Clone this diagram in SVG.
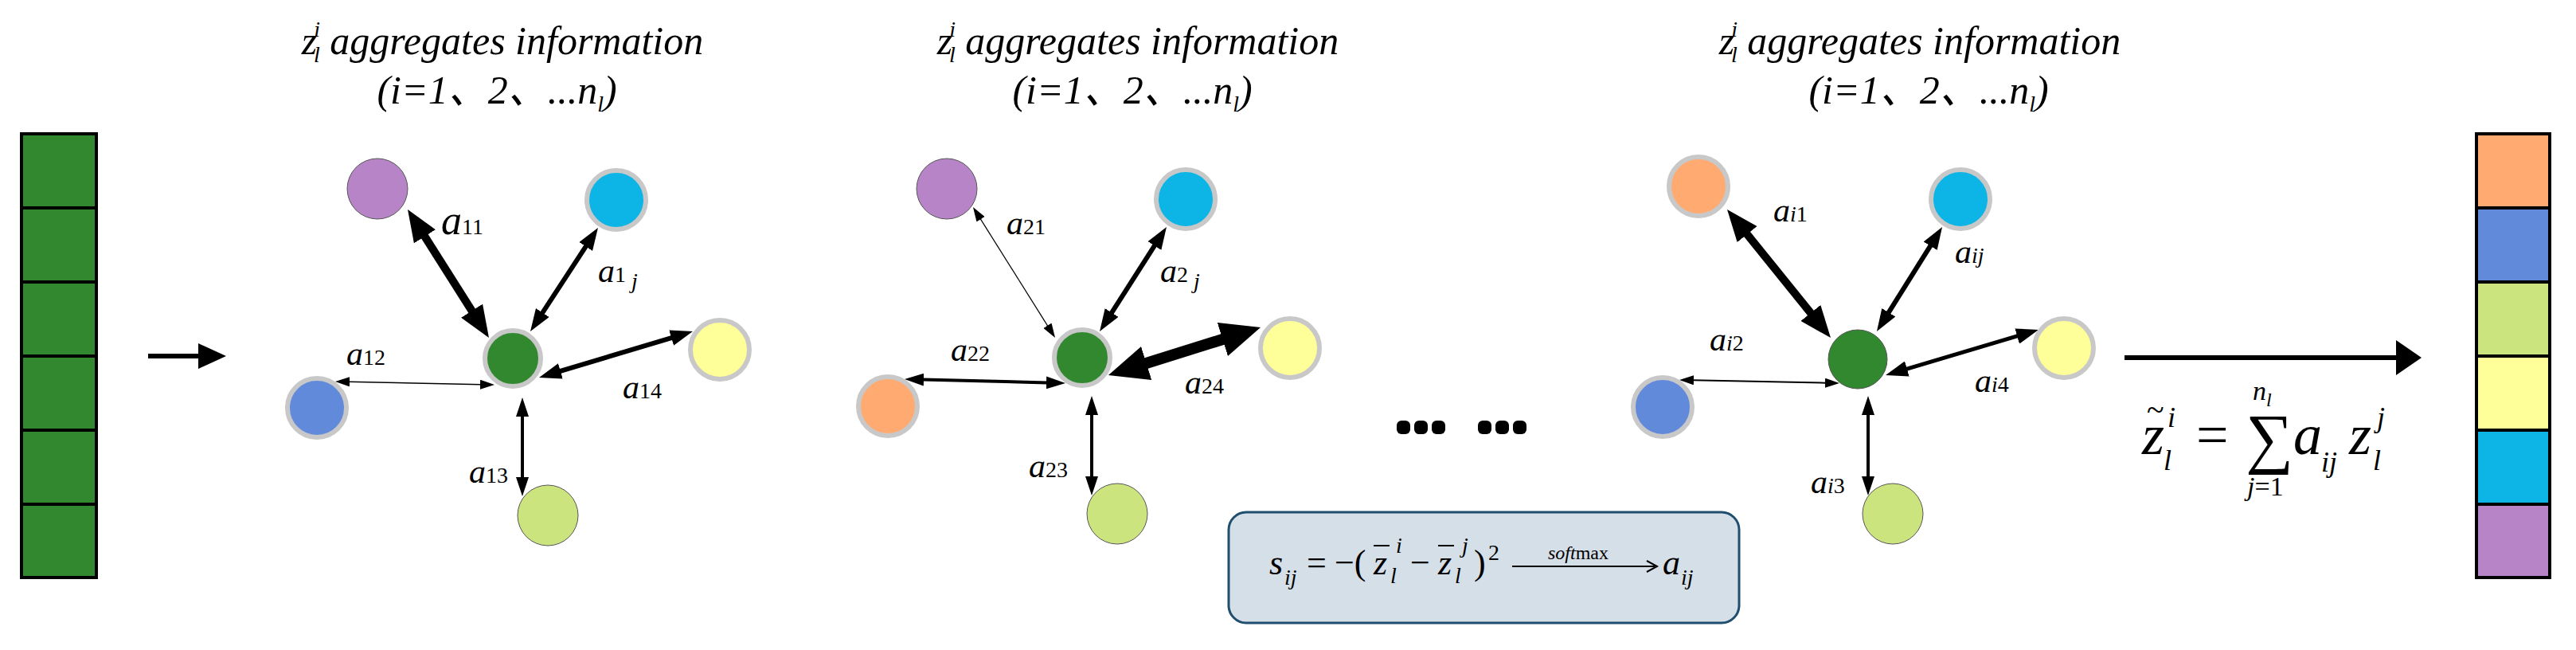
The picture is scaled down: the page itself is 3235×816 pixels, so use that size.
<svg xmlns="http://www.w3.org/2000/svg" width="3235" height="816" viewBox="0 0 3235 816">
<style>
.t{font-family:"Liberation Serif","DejaVu Serif","Noto Sans CJK SC",serif;font-style:italic;fill:#000}
.r{font-family:"Liberation Serif","DejaVu Serif",serif;font-style:normal;fill:#000}
.ttl{font-size:50px}
.lb{font-size:42px}
.sb{font-size:28px}
.e{stroke:#000;fill:none}
.gs{stroke:#c8c8c8;stroke-width:6}
.ns{stroke:#555;stroke-width:1}
.cell{stroke:#000;stroke-width:4}
</style>
<defs>
<marker id="mS" markerUnits="userSpaceOnUse" markerWidth="18" markerHeight="12" refX="1" refY="6" orient="auto-start-reverse"><path d="M0,0L18,6L0,12z"/></marker>
<marker id="m4" markerUnits="userSpaceOnUse" markerWidth="24" markerHeight="16" refX="1" refY="8" orient="auto-start-reverse"><path d="M0,0L24,8L0,16z"/></marker>
<marker id="mM" markerUnits="userSpaceOnUse" markerWidth="28" markerHeight="20" refX="1" refY="10" orient="auto-start-reverse"><path d="M0,0L28,10L0,20z"/></marker>
<marker id="mL" markerUnits="userSpaceOnUse" markerWidth="40" markerHeight="32" refX="1" refY="16" orient="auto-start-reverse"><path d="M0,0L40,16L0,32z"/></marker>
<marker id="mXL" markerUnits="userSpaceOnUse" markerWidth="50" markerHeight="44" refX="1" refY="22" orient="auto-start-reverse"><path d="M0,0L50,22L0,44z"/></marker>
<marker id="mA" markerUnits="userSpaceOnUse" markerWidth="35" markerHeight="32" refX="1" refY="16" orient="auto"><path d="M0,0L35,16L0,32z"/></marker>
<marker id="mB" markerUnits="userSpaceOnUse" markerWidth="32" markerHeight="44" refX="1" refY="22" orient="auto"><path d="M0,0L32,22L0,44z"/></marker>
</defs>
<rect width="3235" height="816" fill="#fff"/>

<g id="input-bar">
<rect class="cell" x="27" y="168" width="94" height="93" fill="#31882e"/>
<rect class="cell" x="27" y="261" width="94" height="93" fill="#31882e"/>
<rect class="cell" x="27" y="354" width="94" height="93" fill="#31882e"/>
<rect class="cell" x="27" y="447" width="94" height="93" fill="#31882e"/>
<rect class="cell" x="27" y="540" width="94" height="93" fill="#31882e"/>
<rect class="cell" x="27" y="633" width="94" height="92" fill="#31882e"/>
</g>
<g id="output-bar">
<rect class="cell" x="3110" y="168" width="92" height="93" fill="#ffaa70"/>
<rect class="cell" x="3110" y="261" width="92" height="93" fill="#628ada"/>
<rect class="cell" x="3110" y="354" width="92" height="93" fill="#cce47e"/>
<rect class="cell" x="3110" y="447" width="92" height="93" fill="#ffff99"/>
<rect class="cell" x="3110" y="540" width="92" height="93" fill="#0db5e6"/>
<rect class="cell" x="3110" y="633" width="92" height="92" fill="#b784c8"/>
</g>

<g id="titles">
<text class="t ttl" x="631" y="68" text-anchor="middle">z<tspan class="sb" dx="-4" dy="-22">i</tspan><tspan class="sb" dx="-8" dy="32">l</tspan><tspan dy="-10"> aggregates information</tspan></text>
<text class="t ttl" x="624" y="130" text-anchor="middle">(i=1、2、...n<tspan class="sb" dy="10">l</tspan><tspan dy="-10">)</tspan></text>
<text class="t ttl" x="1429" y="68" text-anchor="middle">z<tspan class="sb" dx="-4" dy="-22">i</tspan><tspan class="sb" dx="-8" dy="32">l</tspan><tspan dy="-10"> aggregates information</tspan></text>
<text class="t ttl" x="1422" y="130" text-anchor="middle">(i=1、2、...n<tspan class="sb" dy="10">l</tspan><tspan dy="-10">)</tspan></text>
<text class="t ttl" x="2411" y="68" text-anchor="middle">z<tspan class="sb" dx="-4" dy="-22">i</tspan><tspan class="sb" dx="-8" dy="32">l</tspan><tspan dy="-10"> aggregates information</tspan></text>
<text class="t ttl" x="2422" y="130" text-anchor="middle">(i=1、2、...n<tspan class="sb" dy="10">l</tspan><tspan dy="-10">)</tspan></text>
</g>

<g id="connectors">
<line class="e" x1="186" y1="447" x2="250" y2="447" stroke-width="6" marker-end="url(#mA)"/>
<line class="e" x1="2668" y1="449" x2="3010" y2="449" stroke-width="6" marker-end="url(#mB)"/>
<line class="e" x1="532.9" y1="296" x2="593.1" y2="391" stroke-width="10" marker-start="url(#mL)" marker-end="url(#mL)"/>
<line class="e" x1="736.2" y1="308.6" x2="680.8" y2="393.4" stroke-width="6" marker-start="url(#mM)" marker-end="url(#mM)"/>
<line class="e" x1="844.1" y1="423.8" x2="702.9" y2="466.2" stroke-width="6" marker-start="url(#mM)" marker-end="url(#mM)"/>
<line class="e" x1="438" y1="479.3" x2="604" y2="482.7" stroke-width="1.5" marker-start="url(#mS)" marker-end="url(#mS)"/>
<line class="e" x1="656" y1="522" x2="656" y2="600" stroke-width="4" marker-start="url(#m4)" marker-end="url(#m4)"/>
<line class="e" x1="1231" y1="274.4" x2="1316" y2="409.6" stroke-width="1.2" marker-start="url(#mS)" marker-end="url(#mS)"/>
<line class="e" x1="1450.4" y1="307.7" x2="1395.6" y2="393.3" stroke-width="6" marker-start="url(#mM)" marker-end="url(#mM)"/>
<line class="e" x1="1536.3" y1="425.7" x2="1438.7" y2="456.3" stroke-width="14" marker-start="url(#mXL)" marker-end="url(#mXL)"/>
<line class="e" x1="1159" y1="476.6" x2="1315" y2="480.4" stroke-width="4" marker-start="url(#m4)" marker-end="url(#m4)"/>
<line class="e" x1="1371" y1="520" x2="1371" y2="599" stroke-width="4" marker-start="url(#m4)" marker-end="url(#m4)"/>
<line class="e" x1="2193.5" y1="293.3" x2="2274.5" y2="393.7" stroke-width="10" marker-start="url(#mL)" marker-end="url(#mL)"/>
<line class="e" x1="2424.7" y1="307.9" x2="2371.3" y2="393.1" stroke-width="6" marker-start="url(#mM)" marker-end="url(#mM)"/>
<line class="e" x1="2534.1" y1="421.7" x2="2393.9" y2="463.3" stroke-width="5" marker-start="url(#mM)" marker-end="url(#mM)"/>
<line class="e" x1="2126" y1="477.3" x2="2293" y2="480.7" stroke-width="2" marker-start="url(#mS)" marker-end="url(#mS)"/>
<line class="e" x1="2346" y1="520" x2="2346" y2="599" stroke-width="4" marker-start="url(#m4)" marker-end="url(#m4)"/>
</g>

<g id="panel1">
<circle id="p1-center" cx="644" cy="450" r="35" fill="#31882e" class="gs"/>
<circle id="p1-purple" cx="474" cy="237" r="38" fill="#b784c8" class="ns"/>
<circle id="p1-cyan" cx="774" cy="251" r="37" fill="#0db5e6" class="gs"/>
<circle id="p1-yellow" cx="904" cy="439" r="37" fill="#ffff99" class="gs"/>
<circle id="p1-blue" cx="398" cy="512" r="37" fill="#628ada" class="gs"/>
<circle id="p1-lgreen" cx="688" cy="647" r="38" fill="#cce47e" class="ns"/>
<text class="t" font-size="52" x="554" y="294">a<tspan class="r sb" font-size="32">11</tspan></text>
<text class="t lb" x="751" y="354">a<tspan class="r sb">1</tspan><tspan class="sb" dy="8"> j</tspan></text>
<text class="t lb" x="435" y="458">a<tspan class="r sb">12</tspan></text>
<text class="t lb" x="782" y="500">a<tspan class="r sb">14</tspan></text>
<text class="t lb" x="589" y="606">a<tspan class="r sb">13</tspan></text>
</g>

<g id="panel2">
<circle id="p2-center" cx="1359" cy="449" r="35" fill="#31882e" class="gs"/>
<circle id="p2-purple" cx="1189" cy="237" r="38" fill="#b784c8" class="ns"/>
<circle id="p2-cyan" cx="1489" cy="250" r="37" fill="#0db5e6" class="gs"/>
<circle id="p2-yellow" cx="1620" cy="437" r="37" fill="#ffff99" class="gs"/>
<circle id="p2-orange" cx="1115" cy="510" r="37" fill="#ffaa70" class="gs"/>
<circle id="p2-lgreen" cx="1403" cy="645" r="38" fill="#cce47e" class="ns"/>
<text class="t lb" x="1264" y="294">a<tspan class="r sb">21</tspan></text>
<text class="t lb" x="1457" y="354">a<tspan class="r sb">2</tspan><tspan class="sb" dy="8"> j</tspan></text>
<text class="t lb" x="1194" y="453">a<tspan class="r sb">22</tspan></text>
<text class="t lb" x="1488" y="494">a<tspan class="r sb">24</tspan></text>
<text class="t lb" x="1292" y="599">a<tspan class="r sb">23</tspan></text>
</g>

<g id="ellipsis" fill="#000">
<rect x="1754" y="528" width="17" height="17" rx="6"/>
<rect x="1776" y="528" width="17" height="17" rx="6"/>
<rect x="1798" y="528" width="17" height="17" rx="6"/>
<rect x="1856" y="528" width="17" height="17" rx="6"/>
<rect x="1878" y="528" width="17" height="17" rx="6"/>
<rect x="1900" y="528" width="17" height="17" rx="6"/>
</g>

<g id="panel3">
<circle id="p3-center" cx="2333" cy="451" r="37" fill="#31882e" class="ns"/>
<circle id="p3-orange" cx="2133" cy="234" r="37" fill="#ffaa70" class="gs"/>
<circle id="p3-cyan" cx="2462" cy="250" r="37" fill="#0db5e6" class="gs"/>
<circle id="p3-yellow" cx="2592" cy="437" r="37" fill="#ffff99" class="gs"/>
<circle id="p3-blue" cx="2088" cy="511" r="37" fill="#628ada" class="gs"/>
<circle id="p3-lgreen" cx="2377" cy="645" r="38" fill="#cce47e" class="ns"/>
<text class="t lb" x="2227" y="278">a<tspan class="sb">i</tspan><tspan class="r sb">1</tspan></text>
<text class="t lb" x="2455" y="330">a<tspan class="sb">ij</tspan></text>
<text class="t lb" x="2147" y="440">a<tspan class="sb">i</tspan><tspan class="r sb">2</tspan></text>
<text class="t lb" x="2480" y="492">a<tspan class="sb">i</tspan><tspan class="r sb">4</tspan></text>
<text class="t lb" x="2274" y="619">a<tspan class="sb">i</tspan><tspan class="r sb">3</tspan></text>
</g>

<g id="formula-box">
<rect x="1543" y="643" width="641" height="139" rx="22" fill="#d5dfe8" stroke="#1f4e6e" stroke-width="3"/>
<text class="t" font-size="44" x="1594" y="721">s</text>
<text class="t sb" x="1613" y="734">ij</text>
<text class="r" font-size="44" x="1641" y="721">=</text>
<text class="r" font-size="44" x="1676" y="721">−(</text>
<text class="t" font-size="44" x="1725" y="721">z</text>
<line x1="1725" y1="685" x2="1745" y2="685" stroke="#000" stroke-width="2"/>
<text class="t sb" x="1753" y="694">i</text>
<text class="t sb" x="1746" y="732">l</text>
<text class="r" font-size="44" x="1771" y="721">−</text>
<text class="t" font-size="44" x="1806" y="721">z</text>
<line x1="1806" y1="685" x2="1826" y2="685" stroke="#000" stroke-width="2"/>
<text class="t sb" x="1836" y="694">j</text>
<text class="t sb" x="1827" y="732">l</text>
<text class="r" font-size="44" x="1851" y="721">)</text>
<text class="r sb" x="1869" y="703">2</text>
<text class="t" font-size="24" x="1944" y="702">soft<tspan class="r">max</tspan></text>
<line x1="1899" y1="711" x2="2078" y2="711" stroke="#000" stroke-width="2"/>
<path d="M2068,704L2081,711L2068,718" fill="none" stroke="#000" stroke-width="2"/>
<text class="t" font-size="44" x="2088" y="721">a</text>
<text class="t sb" x="2111" y="734">ij</text>
</g>

<g id="sum-formula">
<text class="t" font-size="72" x="2690" y="570">z</text>
<text class="r" font-size="40" x="2696" y="528">~</text>
<text class="t" font-size="36" x="2722" y="536">i</text>
<text class="t" font-size="36" x="2717" y="590">l</text>
<text class="r" font-size="72" x="2758" y="570">=</text>
<text class="r" font-size="84" x="2820" y="578">∑</text>
<text class="t" font-size="34" x="2829" y="502">n<tspan font-size="24" dy="8">l</tspan></text>
<text class="t" font-size="34" x="2822" y="622">j<tspan class="r">=1</tspan></text>
<text class="t" font-size="72" x="2880" y="570">a</text>
<text class="t" font-size="36" x="2915" y="592">ij</text>
<text class="t" font-size="72" x="2950" y="570">z</text>
<text class="t" font-size="36" x="2985" y="536">j</text>
<text class="t" font-size="36" x="2980" y="590">l</text>
</g>
</svg>
